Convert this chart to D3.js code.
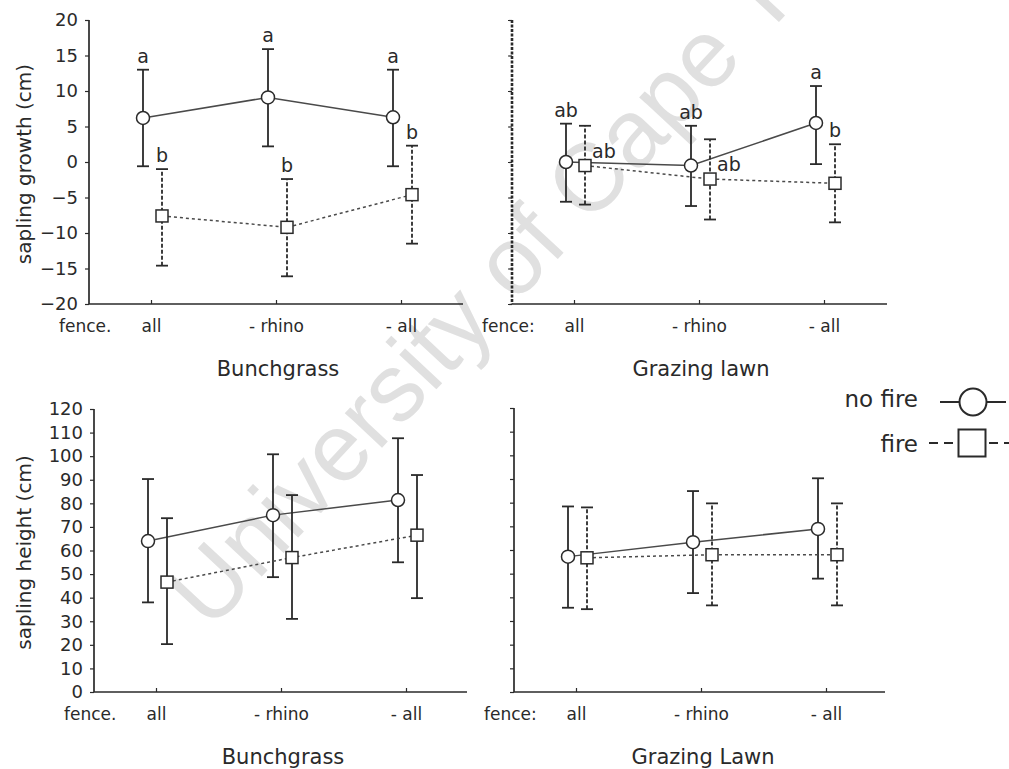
<!DOCTYPE html>
<html><head><meta charset="utf-8">
<script src="https://cdn.jsdelivr.net/npm/d3@7"></script>
<style>body{margin:0;background:#fff} svg{display:block}</style>
</head><body>
<svg id="c" width="1009" height="769"></svg>
<script>
// ---------- data ----------
const categories = ["all", "- rhino", "- all"];
const seriesNames = ["no fire", "fire"];
// each entry: [mean, lower whisker, upper whisker]
const growthBunchNoFire = [[6.2, -0.6, 13.0], [9.1, 2.2, 15.9], [6.3, -0.6, 13.0]];
const growthBunchFire   = [[-7.6, -14.6, -1.0], [-9.2, -16.1, -2.4], [-4.6, -11.5, 2.3]];
const growthLawnNoFire  = [[0.0, -5.6, 5.4], [-0.5, -6.2, 5.1], [5.5, -0.3, 10.7]];
const growthLawnFire    = [[-0.5, -6.0, 5.1], [-2.4, -8.1, 3.2], [-3.0, -8.5, 2.5]];
const heightBunchNoFire = [[64.0, 38.0, 90.3], [75.0, 48.7, 100.8], [81.4, 55.0, 107.6]];
const heightBunchFire   = [[46.6, 20.3, 73.7], [57.0, 31.0, 83.5], [66.5, 39.8, 92.0]];
const heightLawnNoFire  = [[57.2, 35.6, 78.4], [63.3, 41.8, 84.9], [68.9, 47.9, 90.3]];
const heightLawnFire    = [[56.7, 35.0, 78.0], [58.0, 36.6, 79.7], [58.0, 36.6, 79.7]];
const lettersBunchNoFire = ["a", "a", "a"];
const lettersBunchFire   = ["b", "b", "b"];
const lettersLawnNoFire  = ["ab", "ab", "a"];
const lettersLawnFire    = ["ab", "ab", "b"];
const growthTicks = [20, 15, 10, 5, 0, -5, -10, -15, -20];
const heightTicks = [0, 10, 20, 30, 40, 50, 60, 70, 80, 90, 100, 110, 120];
const panelTitles = ["Bunchgrass", "Grazing lawn", "Bunchgrass", "Grazing Lawn"];
const yTitles = ["sapling growth (cm)", "sapling height (cm)"];
const watermark = "University of Cape Town";

// ---------- drawing ----------
const svg = d3.select("#c");
const FONT = "DejaVu Sans, Verdana, sans-serif";
const INK = "#2a2a2a";

svg.append("text")
  .attr("transform", "translate(210,632) rotate(-47)")
  .attr("font-family", "Liberation Sans, Arial, sans-serif")
  .attr("font-size", 96)
  .attr("fill", "#e0e0e0")
  .text(watermark);

const panels = [
  {x0: 89, x1: 463, yTop: 20, yBot: 304, domain: [-20, 20], ticks: growthTicks, showLabels: true,
   nf: growthBunchNoFire, f: growthBunchFire, lnf: lettersBunchNoFire, lf: lettersBunchFire,
   lfSide: ["above", "above", "above"], title: panelTitles[0], fence: "fence.", yTitle: yTitles[0],
   axisDotted: false, fireBarDash: "4,2"},
  {x0: 512, x1: 887, yTop: 20, yBot: 304, domain: [-20, 20], ticks: growthTicks, showLabels: false,
   nf: growthLawnNoFire, f: growthLawnFire, lnf: lettersLawnNoFire, lf: lettersLawnFire,
   lfSide: ["right", "right", "above"], title: panelTitles[1], fence: "fence:", yTitle: null,
   axisDotted: true, fireBarDash: "4,2"},
  {x0: 94, x1: 467, yTop: 409, yBot: 692, domain: [0, 120], ticks: heightTicks, showLabels: true,
   nf: heightBunchNoFire, f: heightBunchFire, lnf: null, lf: null,
   lfSide: null, title: panelTitles[2], fence: "fence.", yTitle: yTitles[1],
   axisDotted: false, fireBarDash: null},
  {x0: 514, x1: 885, yTop: 408, yBot: 692, domain: [0, 120], ticks: heightTicks, showLabels: false,
   nf: heightLawnNoFire, f: heightLawnFire, lnf: null, lf: null,
   lfSide: null, title: panelTitles[3], fence: "fence:", yTitle: null,
   axisDotted: false, fireBarDash: "4,2"}
];

const OFF_NF = -8, OFF_F = 11, CAP = 6, R = 6.5, SQ = 12;

panels.forEach(p => {
  const g = svg.append("g");
  const y = d3.scaleLinear().domain(p.domain).range([p.yBot, p.yTop]);
  const x = d3.scalePoint().domain(categories).range([p.x0 + 62, p.x0 + 312]);

  // y axis
  const yAxis = d3.axisLeft(y).tickValues(p.ticks).tickSize(4).tickPadding(7)
    .tickFormat(p.showLabels ? d3.format("d") : () => "");
  const ya = g.append("g").attr("transform", `translate(${p.x0},0)`).call(yAxis);
  ya.select(".domain").attr("d", `M0,${p.yTop}V${p.yBot}`)
    .attr("stroke", INK).attr("stroke-width", p.axisDotted ? 2.6 : 1.7)
    .attr("stroke-dasharray", p.axisDotted ? "3,1.5" : null);
  ya.selectAll(".tick line").attr("stroke", INK).attr("stroke-width", 1.2);
  ya.selectAll(".tick text").attr("font-family", FONT).attr("font-size", 18).attr("fill", INK);

  // x axis
  const xAxis = d3.axisBottom(x).tickSize(-4).tickPadding(14).tickSizeOuter(0);
  const xa = g.append("g").attr("transform", `translate(0,${p.yBot})`).call(xAxis);
  xa.select(".domain").attr("d", `M${p.x0},0H${p.x1}`).attr("stroke", INK).attr("stroke-width", 1.7);
  xa.selectAll(".tick line").attr("stroke", INK).attr("stroke-width", 1.2);
  xa.selectAll(".tick text").attr("font-family", FONT).attr("font-size", 17).attr("fill", INK)
    .attr("dy", null).attr("y", 28);

  g.append("text").attr("x", p.x0 - 30).attr("y", p.yBot + 28)
    .attr("font-family", FONT).attr("font-size", 17).attr("fill", INK).text(p.fence);

  g.append("text").attr("x", x(categories[1]) + 2).attr("y", p.yBot + 72)
    .attr("text-anchor", "middle").attr("font-family", FONT).attr("font-size", 21).attr("fill", INK)
    .text(p.title);

  if (p.yTitle) {
    const cy = (p.yTop + p.yBot) / 2 + 2;
    g.append("text").attr("transform", `translate(31,${cy}) rotate(-90)`)
      .attr("text-anchor", "middle").attr("font-family", FONT).attr("font-size", 20).attr("fill", INK)
      .text(p.yTitle);
  }

  const series = [
    {data: p.nf, off: OFF_NF, dash: null, barDash: null, shape: "circle", letters: p.lnf, side: null},
    {data: p.f, off: OFF_F, dash: "3,3", barDash: p.fireBarDash, shape: "square", letters: p.lf, side: p.lfSide}
  ];

  series.forEach(s => {
    const pts = s.data.map((d, i) => ({cx: x(categories[i]) + s.off, m: d[0], lo: d[1], hi: d[2]}));
    // connecting line
    g.append("path")
      .attr("d", d3.line().x(d => d.cx).y(d => y(d.m))(pts))
      .attr("fill", "none").attr("stroke", "#4a4a4a").attr("stroke-width", 1.5)
      .attr("stroke-dasharray", s.dash);
    // whiskers
    pts.forEach(d => {
      g.append("line").attr("x1", d.cx).attr("x2", d.cx).attr("y1", y(d.lo)).attr("y2", y(d.hi))
        .attr("stroke", INK).attr("stroke-width", 1.8).attr("stroke-dasharray", s.barDash);
      [d.lo, d.hi].forEach(v => {
        g.append("line").attr("x1", d.cx - CAP).attr("x2", d.cx + CAP).attr("y1", y(v)).attr("y2", y(v))
          .attr("stroke", INK).attr("stroke-width", 1.8);
      });
    });
    // markers
    pts.forEach(d => {
      if (s.shape === "circle") {
        g.append("circle").attr("cx", d.cx).attr("cy", y(d.m)).attr("r", R)
          .attr("fill", "#fff").attr("stroke", INK).attr("stroke-width", 1.5);
      } else {
        g.append("rect").attr("x", d.cx - SQ / 2).attr("y", y(d.m) - SQ / 2).attr("width", SQ).attr("height", SQ)
          .attr("fill", "#fff").attr("stroke", INK).attr("stroke-width", 1.5);
      }
    });
    // significance letters
    if (s.letters) {
      pts.forEach((d, i) => {
        const side = s.side ? s.side[i] : "above";
        const t = g.append("text").attr("font-family", FONT).attr("font-size", 19).attr("fill", INK)
          .text(s.letters[i]);
        if (side === "above") {
          t.attr("x", d.cx).attr("y", y(d.hi) - 7).attr("text-anchor", "middle");
        } else {
          t.attr("x", d.cx + 7).attr("y", y(d.m) - 8).attr("text-anchor", "start");
        }
      });
    }
  });
});

// ---------- legend ----------
const lg = svg.append("g");
lg.append("text").attr("x", 918).attr("y", 407).attr("text-anchor", "end")
  .attr("font-family", FONT).attr("font-size", 23).attr("fill", INK).text(seriesNames[0]);
lg.append("line").attr("x1", 940).attr("x2", 1006).attr("y1", 402).attr("y2", 402)
  .attr("stroke", INK).attr("stroke-width", 2);
lg.append("circle").attr("cx", 973).attr("cy", 402).attr("r", 13.5)
  .attr("fill", "#fff").attr("stroke", INK).attr("stroke-width", 2);
lg.append("text").attr("x", 918).attr("y", 452).attr("text-anchor", "end")
  .attr("font-family", FONT).attr("font-size", 23).attr("fill", INK).text(seriesNames[1]);
lg.append("line").attr("x1", 929).attr("x2", 1009).attr("y1", 443).attr("y2", 443)
  .attr("stroke", INK).attr("stroke-width", 2).attr("stroke-dasharray", "9,6");
lg.append("rect").attr("x", 972 - 13.5).attr("y", 443 - 13.5).attr("width", 27).attr("height", 27)
  .attr("fill", "#fff").attr("stroke", INK).attr("stroke-width", 2);
</script>
</body></html>
